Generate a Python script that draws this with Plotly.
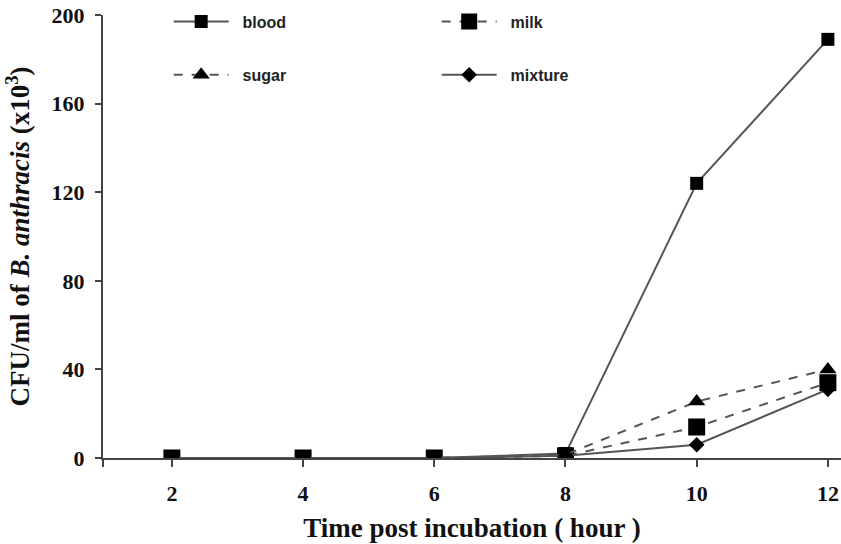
import plotly.graph_objects as go

hours = [2, 4, 6, 8, 10, 12]
blood = [0, 0, 0, 2, 124, 189]
milk = [0, 0, 0, 1, 14, 34]
sugar = [0, 0, 0, 1.5, 25.5, 40]
mixture = [0, 0, 0, 1, 6, 31]

x_ticks = [2, 4, 6, 8, 10, 12]
y_ticks = [0, 40, 80, 120, 160, 200]

LINE = "#555555"
MARK = "#000000"
PAD = "\u00a0\u00a0"
X_LEFT = 0.95

fig = go.Figure()
fig.add_trace(go.Scatter(x=hours, y=blood, name=PAD + "blood", mode="lines+markers",
                         line=dict(color=LINE, width=2),
                         marker=dict(symbol="square", size=13, color=MARK),
                         legend="legend"))
fig.add_trace(go.Scatter(x=hours, y=milk, name=PAD + "milk", mode="lines+markers",
                         line=dict(color=LINE, width=2, dash="dash"),
                         marker=dict(symbol="square", size=17, color=MARK),
                         legend="legend"))
fig.add_trace(go.Scatter(x=hours, y=sugar, name=PAD + "sugar", mode="lines+markers",
                         line=dict(color=LINE, width=2, dash="dash"),
                         marker=dict(symbol="triangle-up", size=15, color=MARK),
                         legend="legend2"))
fig.add_trace(go.Scatter(x=hours, y=mixture, name=PAD + "mixture", mode="lines+markers",
                         line=dict(color=LINE, width=2),
                         marker=dict(symbol="diamond", size=12, color=MARK),
                         legend="legend2"))

legfont = dict(family="Liberation Sans", size=16, color="#222222", weight="bold")
common_leg = dict(orientation="h", xanchor="left", yanchor="middle",
                  entrywidth=198, entrywidthmode="pixels", itemwidth=55,
                  font=legfont, bgcolor="rgba(0,0,0,0)", itemsizing="trace")

fig.update_layout(
    width=841, height=544,
    margin=dict(l=103, r=0, t=15, b=86, autoexpand=False),
    plot_bgcolor="white", paper_bgcolor="white",
    showlegend=True,
    legend=dict(x=0.089, y=0.985, **common_leg),
    legend2=dict(x=0.089, y=0.865, **common_leg),
    xaxis=dict(range=[X_LEFT, 12.2], tickvals=[X_LEFT] + x_ticks, ticktext=[""] + [str(t) for t in x_ticks],
               automargin=False,
               showline=True, linecolor="#444444", linewidth=2,
               ticks="outside", ticklen=7, tickwidth=2, tickcolor="#444444",
               showgrid=False, zeroline=False,
               tickfont=dict(family="Liberation Serif", size=22, color="#111111", weight="bold"),
               ticklabelstandoff=8,
               title=dict(text="Time post incubation ( hour )", standoff=13,
                          font=dict(family="Liberation Serif", size=27, color="#111111", weight="bold"))),
    yaxis=dict(range=[0, 200], tickvals=y_ticks,
               automargin=False,
               showline=True, linecolor="#444444", linewidth=2,
               ticks="outside", ticklen=6, tickwidth=2, tickcolor="#444444",
               showgrid=False, zeroline=False,
               tickfont=dict(family="Liberation Serif", size=22, color="#111111", weight="bold"),
               ticklabelstandoff=6,
               title=dict(text="CFU/ml of <i>B. anthracis</i> (x10<sup>3</sup>)", standoff=14,
                          font=dict(family="Liberation Serif", size=27, color="#111111", weight="bold"))),
)

fig.write_html("out.html", config={"displayModeBar": False},
               post_script="document.body.style.margin='0';document.body.style.overflow='hidden';")
